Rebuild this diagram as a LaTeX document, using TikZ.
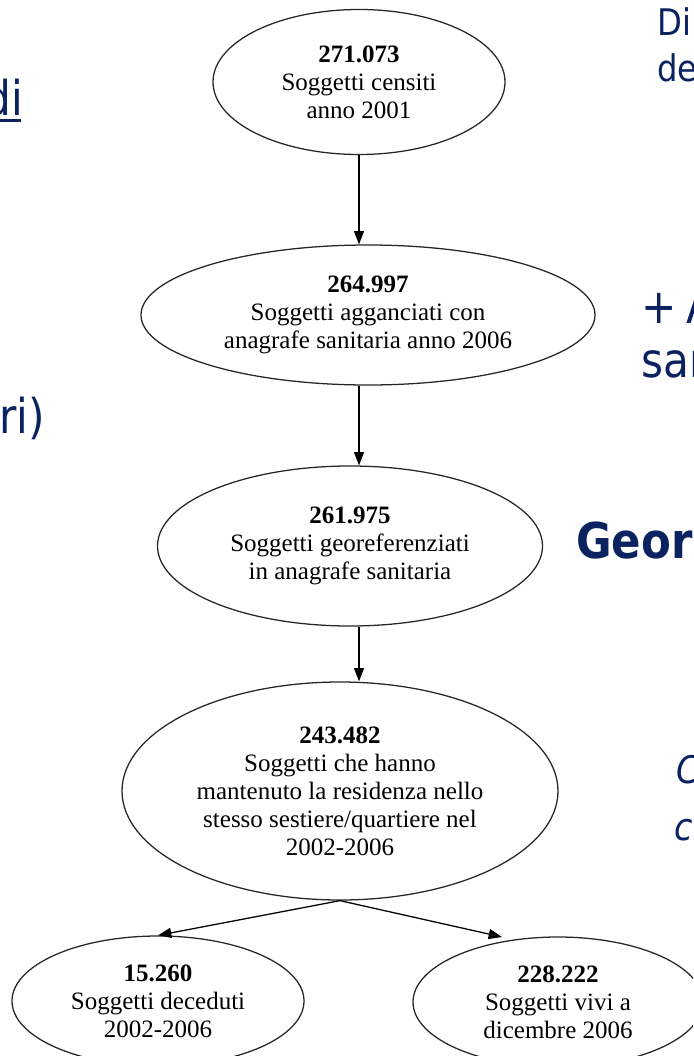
\documentclass[tikz,border=0pt]{standalone}
\usepackage{fontspec}
\setmainfont{Liberation Serif}
\newfontfamily\slidefont[FakeStretch=0.88]{DejaVu Sans}
\usetikzlibrary{shapes.geometric,arrows.meta}
\definecolor{navy}{HTML}{0A2260}
\begin{document}
\begin{tikzpicture}[x=0.75pt,y=-0.75pt,
  bub/.style={ellipse,draw=black!85,line width=0.95pt,inner sep=0pt,align=center,
    font=\fontsize{18.75}{21}\selectfont},
  arr/.style={-{Triangle[length=10pt,width=7.5pt]},line width=0.95pt},
  slidetxt/.style={text=navy,inner sep=0pt}]
\useasboundingbox (0,0) rectangle (693,1056);
\clip (0,0) rectangle (693,1056);
% flow chart ellipses
\node[bub,minimum width=292*0.75pt,minimum height=145*0.75pt] (e1) at (359,82)
  {\textbf{271.073}\\Soggetti censiti\\anno 2001};
\node[bub,minimum width=454*0.75pt,minimum height=140*0.75pt] (e2) at (368,315)
  {\textbf{264.997}\\Soggetti agganciati con\\anagrafe sanitaria anno 2006};
\node[bub,minimum width=385*0.75pt,minimum height=160*0.75pt] (e3) at (350,546)
  {\textbf{261.975}\\Soggetti georeferenziati\\in anagrafe sanitaria};
\node[bub,minimum width=436*0.75pt,minimum height=218*0.75pt] (e4) at (340,791)
  {\textbf{243.482}\\Soggetti che hanno\\mantenuto la residenza nello\\stesso sestiere/quartiere nel\\2002-2006};
\node[bub,minimum width=292*0.75pt,minimum height=130*0.75pt] (e5) at (158,1001)
  {\textbf{15.260}\\Soggetti deceduti\\2002-2006};
\node[bub,minimum width=290*0.75pt,minimum height=130*0.75pt] (e6) at (558,1002)
  {\textbf{228.222}\\Soggetti vivi a\\dicembre 2006};
% connectors
\draw[arr] (e1.south) -- (e2.north -| e1.south);
\draw[arr] (e2.south -| e1.south) -- (e3.north -| e1.south);
\draw[arr] (e3.south -| e1.south) -- (e4.north -| e1.south);
\coordinate (t6) at (502,937);
\draw[arr] (e4.south) -- (e5.north);
\draw[arr] (e4.south) -- (t6);
% slide text fragments
\node[slidetxt,anchor=base east,font=\slidefont\fontsize{36}{43}\selectfont] (tdi) at (23,115) {di};
\fill[navy] (0,119) rectangle (21,122);
\node[slidetxt,anchor=base east,font=\slidefont\fontsize{36}{43}\selectfont] (tri) at (45,433) {ri)};
\node[slidetxt,anchor=base west,font=\slidefont\fontsize{27.5}{33}\selectfont] (tDi) at (657,36) {Di};
\node[slidetxt,anchor=base west,font=\slidefont\fontsize{27.5}{33}\selectfont] (tde) at (657,81) {de};
\node[slidetxt,anchor=base west,font=\slidefont\fontsize{36}{43}\selectfont] (tpA) at (641,323) {+\kern0.2em A};
\node[slidetxt,anchor=base west,font=\slidefont\fontsize{36}{43}\selectfont] (tsa) at (641,377) {san};
\node[slidetxt,anchor=base west,font=\slidefont\bfseries\fontsize{37}{44}\selectfont] (tgeo) at (576,558) {Geor};
\node[slidetxt,anchor=base west,font=\slidefont\itshape\fontsize{28.5}{34}\selectfont] (tC) at (676,783) {C};
\node[slidetxt,anchor=base west,font=\slidefont\itshape\fontsize{28.5}{34}\selectfont] (tc) at (674,840) {c};
\end{tikzpicture}
\end{document}
